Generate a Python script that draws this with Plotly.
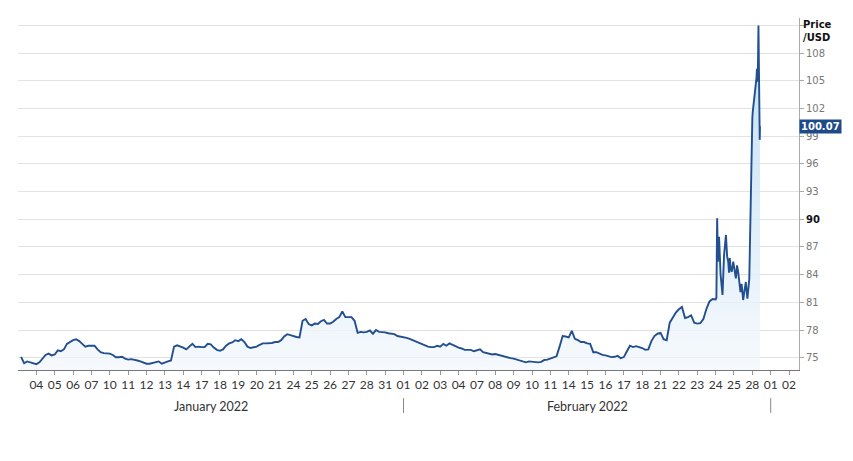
import pandas as pd
import plotly.graph_objects as go

# ---------------- data ----------------
# regular trading days, six intraday readings at 00,04,08,12,16,20h
day_dates = [
    "2022-01-03", "2022-01-04", "2022-01-05", "2022-01-06", "2022-01-07",
    "2022-01-10", "2022-01-11", "2022-01-12", "2022-01-13", "2022-01-14",
    "2022-01-17", "2022-01-18", "2022-01-19", "2022-01-20", "2022-01-21",
    "2022-01-24", "2022-01-25", "2022-01-26", "2022-01-27", "2022-01-28",
    "2022-01-31", "2022-02-01", "2022-02-02", "2022-02-03", "2022-02-04",
    "2022-02-07", "2022-02-08", "2022-02-09", "2022-02-10", "2022-02-11",
    "2022-02-14", "2022-02-15", "2022-02-16", "2022-02-17", "2022-02-18",
    "2022-02-21", "2022-02-22", "2022-02-23",
]
sample_hours = [0, 4, 8, 12, 16, 20]
day_prices = [
    [None, 75.1, 74.4, 74.6, 74.5, 74.4],
    [74.3, 74.5, 74.9, 75.3, 75.45, 75.25],
    [75.35, 75.8, 75.7, 75.9, 76.5, 76.7],
    [76.9, 77.0, 76.8, 76.5, 76.2, 76.3],
    [76.3, 76.3, 75.9, 75.6, 75.5, 75.5],
    [75.45, 75.3, 75.05, 75.05, 75.1, 74.9],
    [74.8, 74.85, 74.8, 74.7, 74.6, 74.45],
    [74.35, 74.35, 74.45, 74.55, 74.6, 74.35],
    [74.5, 74.6, 74.7, 76.2, 76.35, 76.25],
    [76.1, 75.9, 76.2, 76.5, 76.15, 76.2],
    [76.15, 76.15, 76.5, 76.45, 76.1, 75.85],
    [75.75, 75.9, 76.3, 76.55, 76.65, 76.9],
    [76.8, 77.0, 76.7, 76.2, 76.05, 76.1],
    [76.2, 76.4, 76.55, 76.55, 76.55, 76.6],
    [76.7, 76.7, 76.9, 77.3, 77.55, 77.45],
    [77.3, 77.25, 77.2, 79.0, 79.2, 78.65],
    [78.5, 78.7, 78.65, 78.95, 79.1, 78.7],
    [78.7, 78.9, 79.2, 79.4, 80.0, 79.4],
    [79.4, 79.4, 79.0, 77.7, 77.8, 77.75],
    [77.8, 77.95, 77.6, 78.0, 77.8, 77.8],
    [77.75, 77.65, 77.6, 77.55, 77.35, 77.3],
    [77.2, 77.15, 77.05, 76.9, 76.75, 76.6],
    [76.5, 76.35, 76.2, 76.15, 76.15, 76.3],
    [76.2, 76.5, 76.3, 76.55, 76.4, 76.2],
    [76.1, 76.0, 75.85, 75.85, 75.85, 75.7],
    [75.8, 75.9, 75.6, 75.5, 75.4, 75.35],
    [75.4, 75.3, 75.2, 75.1, 75.05, 74.95],
    [74.9, 74.8, 74.7, 74.65, 74.5, 74.6],
    [74.55, 74.55, 74.5, 74.55, 74.75, 74.8],
    [74.9, 75.0, 75.15, 76.2, 77.35, 77.3],
    [77.2, 77.9, 77.05, 76.9, 76.7, 76.7],
    [76.55, 76.5, 75.6, 75.6, 75.45, 75.3],
    [75.25, 75.15, 75.07, 75.1, 75.2, 74.95],
    [75.07, 75.7, 76.3, 76.15, 76.25, 76.15],
    [76.05, 75.85, 75.9, 76.8, 77.35, 77.6],
    [77.7, 77.0, 76.9, 78.8, 79.35, 79.9],
    [80.25, 80.5, 79.3, 79.4, 79.6, 78.8],
    [78.7, 78.75, 79.2, 80.3, 81.1, 81.35],
]

# volatile days (24-28 Feb), denser readings
detail_times = [
    "2022-02-24 00:00", "2022-02-24 01:00", "2022-02-24 02:00", "2022-02-24 03:00",
    "2022-02-24 04:30", "2022-02-24 06:30", "2022-02-24 09:00", "2022-02-24 11:00",
    "2022-02-24 13:30", "2022-02-24 15:00", "2022-02-24 16:30", "2022-02-24 17:30",
    "2022-02-24 18:30", "2022-02-24 19:30", "2022-02-24 21:00", "2022-02-24 23:00",
    "2022-02-25 02:30", "2022-02-25 04:00", "2022-02-25 05:30", "2022-02-25 08:30",
    "2022-02-25 10:00", "2022-02-25 12:00", "2022-02-25 14:00", "2022-02-25 15:30",
    "2022-02-25 17:30", "2022-02-25 20:00",
    "2022-02-28 00:00", "2022-02-28 00:30", "2022-02-28 05:30", "2022-02-28 06:00",
    "2022-02-28 06:30", "2022-02-28 07:15", "2022-02-28 08:00", "2022-02-28 08:20",
    "2022-02-28 08:40", "2022-02-28 09:00", "2022-02-28 09:20", "2022-02-28 09:40",
    "2022-02-28 10:00",
]
detail_prices = [
    81.3, 81.5, 90.1, 85.4,
    88.1, 84.0, 81.8, 86.1,
    88.3, 86.0, 85.4, 84.2,
    85.8, 84.7, 84.3, 85.4,
    83.6, 85.0, 84.3, 82.1,
    83.0, 81.25, 82.4, 83.2,
    81.4, 83.5,
    101.0, 101.6, 105.4, 106.3,
    104.9, 106.0, 111.0, 107.5,
    103.5, 104.5, 101.0, 98.6,
    100.07,
]
last_price = 100.07

tick_dates = [
    "2022-01-04", "2022-01-05", "2022-01-06", "2022-01-07", "2022-01-10",
    "2022-01-11", "2022-01-12", "2022-01-13", "2022-01-14", "2022-01-17",
    "2022-01-18", "2022-01-19", "2022-01-20", "2022-01-21", "2022-01-24",
    "2022-01-25", "2022-01-26", "2022-01-27", "2022-01-28", "2022-01-31",
    "2022-02-01", "2022-02-02", "2022-02-03", "2022-02-04", "2022-02-07",
    "2022-02-08", "2022-02-09", "2022-02-10", "2022-02-11", "2022-02-14",
    "2022-02-15", "2022-02-16", "2022-02-17", "2022-02-18", "2022-02-21",
    "2022-02-22", "2022-02-23", "2022-02-24", "2022-02-25", "2022-02-28",
    "2022-03-01", "2022-03-02",
]
tick_labels = [d[-2:] for d in tick_dates]

y_ticks = [75, 78, 81, 84, 87, 90, 93, 96, 99, 102, 105, 108, 111]
y_labels = ["75", "78", "81", "84", "87", "<b><span style='color:#111'>90</span></b>",
            "93", "96", "99", "102", "105", "108", ""]

months = ["January 2022", "February 2022"]
month_centers = ["2022-01-17 12:00", "2022-02-15 00:00"]
month_bounds = ["2022-02-01", "2022-03-01"]

# ---------------- build series ----------------
times, prices = [], []
for d, row in zip(day_dates, day_prices):
    for h, v in zip(sample_hours, row):
        if v is None:
            continue
        times.append(pd.Timestamp(d) + pd.Timedelta(hours=h))
        prices.append(v)
for t, v in zip(detail_times, detail_prices):
    times.append(pd.Timestamp(t))
    prices.append(v)

Y0, Y1 = 73.67, 111.8

fig = go.Figure()
fig.add_trace(go.Scatter(
    x=times, y=prices, mode="lines",
    line=dict(color="#224f8f", width=1.9),
    fill="tozeroy",
    fillgradient=dict(type="vertical", start=Y0, stop=111,
                      colorscale=[[0, "rgba(242,247,252,0.7)"],
                                  [0.3, "rgba(226,239,250,0.85)"],
                                  [1, "rgba(188,221,245,0.95)"]]),
    hoverinfo="skip",
))

# the page body adds an 8 px offset: figure is 845x453 placed at (8, 8)
fig.update_layout(
    width=845, height=453,
    margin=dict(l=10, r=54, t=10, b=91, autoexpand=False),
    plot_bgcolor="white", paper_bgcolor="white",
    showlegend=False,
    xaxis=dict(
        type="date",
        range=["2022-01-03 00:00", "2022-03-02 13:00"],
        rangebreaks=[dict(bounds=["sat", "mon"])],
        tickmode="array", tickvals=tick_dates, ticktext=tick_labels,
        tickangle=0, ticks="outside", ticklen=4, tickcolor="#999",
        showline=True, linecolor="#777", linewidth=1,
        showgrid=False, zeroline=False,
        tickfont=dict(family="Lato", size=12, color="#333"),
    ),
    yaxis=dict(
        side="right", range=[Y0, Y1],
        tickmode="array", tickvals=y_ticks, ticktext=y_labels,
        ticks="outside", ticklen=4, tickcolor="#aaa",
        showline=True, linecolor="#aaa", linewidth=1,
        showgrid=True, gridcolor="#e2e2e2", gridwidth=1, zeroline=False,
        tickfont=dict(family="DejaVu Sans", size=10, color="#777"),
    ),
)

for name, c in zip(months, month_centers):
    fig.add_annotation(x=c, xref="x", y=0, yref="paper", yshift=-36,
                       yanchor="middle", text=name, showarrow=False,
                       font=dict(family="Lato", size=12.5, color="#333"))
for b in month_bounds:
    fig.add_shape(type="line", xref="x", yref="paper", x0=b, x1=b,
                  y0=-0.08, y1=-0.122, line=dict(color="#888", width=1))

fig.add_annotation(x=1, xref="paper", y=1, yref="paper", xanchor="left",
                   yanchor="top", xshift=2, yshift=1, align="left",
                   text="<b>Price<br>/USD</b>", showarrow=False,
                   font=dict(family="DejaVu Sans", size=10, color="#111"))
fig.add_annotation(x=1, xref="paper", y=last_price, yref="y", xanchor="left",
                   yanchor="middle", xshift=0, text=f"<b>{last_price:.2f}</b>",
                   showarrow=False, bgcolor="#1f4a8a", borderpad=1,
                   font=dict(family="DejaVu Sans", size=10, color="white"))

fig.write_html("out.html")
